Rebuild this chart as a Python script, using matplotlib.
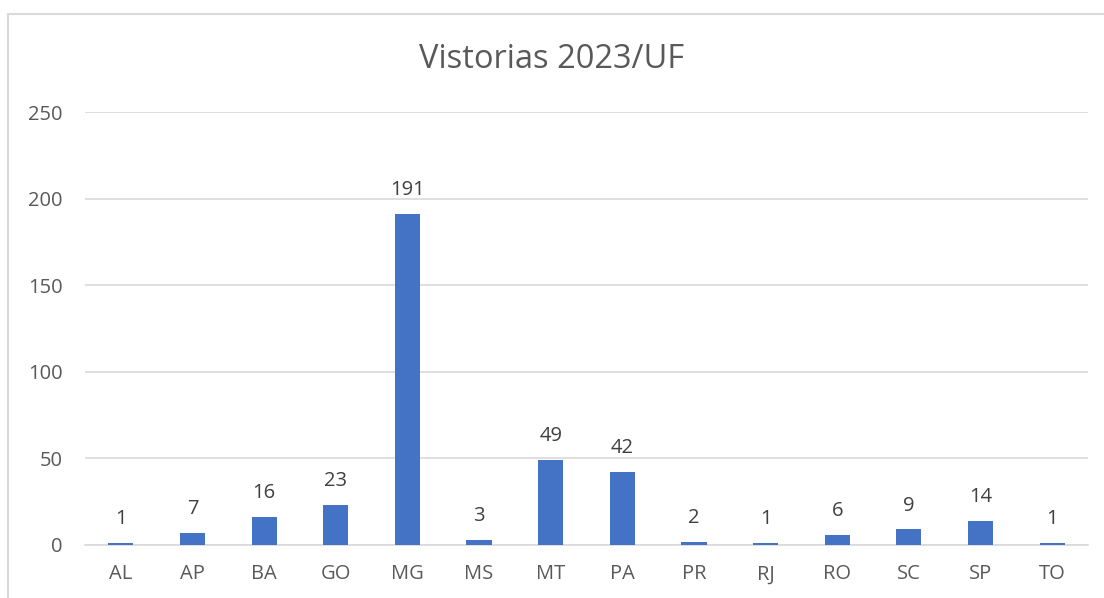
import matplotlib
matplotlib.use('Agg')
import matplotlib.pyplot as plt
from matplotlib.patches import Rectangle
import numpy as np

# dados da figura
ufs = ['AL', 'AP', 'BA', 'GO', 'MG', 'MS', 'MT', 'PA', 'PR', 'RJ', 'RO', 'SC', 'SP', 'TO']
vistorias = [1, 7, 16, 23, 191, 3, 49, 42, 2, 1, 6, 9, 14, 1]
yticks = [0, 50, 100, 150, 200, 250]

plt.rcParams['font.family'] = ['Open Sans', 'DejaVu Sans']

W, H = 1104, 598
fig = plt.figure(figsize=(W / 100, H / 100), dpi=100)
fig.patch.set_facecolor('white')

# moldura do grafico (cortada a direita e embaixo)
fig.patches.append(Rectangle((8 / W, -0.1), 1.2, 1 - 14 / H + 0.1,
                             transform=fig.transFigure, fill=False,
                             edgecolor='#d9d9d9', linewidth=1.5))

ax = fig.add_axes([85 / W, 1 - 545 / H, (1088 - 85) / W, (545 - 112) / H])
x = np.arange(len(ufs))
ax.bar(x, vistorias, width=0.35, color='#4472C4', zorder=3)

ax.set_xlim(-0.5, len(ufs) - 0.5)
ax.set_ylim(0, 250)
ax.set_yticks(yticks)
ax.set_xticks(x)
ax.set_xticklabels(ufs)
ax.tick_params(axis='both', length=0, labelsize=14.5, colors='#595959')
ax.tick_params(axis='x', pad=14)
ax.tick_params(axis='y', pad=16)
ax.grid(axis='y', color='#d9d9d9', linewidth=1.2, zorder=0)
for s in ['top', 'right', 'left']:
    ax.spines[s].set_visible(False)
ax.spines['bottom'].set_color('#d9d9d9')
ax.spines['bottom'].set_linewidth(1.2)

for xi, v in zip(x, vistorias):
    ax.text(xi, v + 8, str(v), ha='center', va='bottom', fontsize=14.5, color='#404040')

fig.text(0.5, 1 - 60 / H, 'Vistorias 2023/UF', ha='center', va='center',
         fontsize=23.5, color='#595959')

fig.savefig('out.png', dpi=100)
